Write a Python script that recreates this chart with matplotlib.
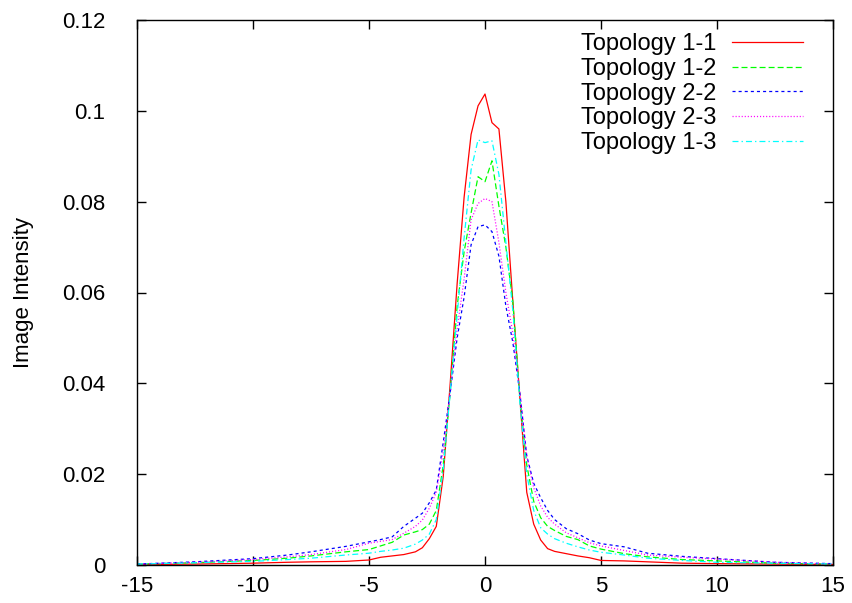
import matplotlib
matplotlib.use("Agg")
import matplotlib.pyplot as plt

plt.rcParams['font.family'] = ['Liberation Sans', 'DejaVu Sans']
plt.rcParams['lines.scale_dashes'] = False
plt.rcParams['axes.unicode_minus'] = False

# sample positions (denser around the peak)
x = [-15, -12.5, -10, -8.5, -7.5, -6, -5, -4.5, -4, -3.5, -3, -2.7, -2.4, -2.1,
     -1.8, -1.5, -1.2, -0.9, -0.6, -0.3, 0, 0.3, 0.6, 0.9, 1.2, 1.5, 1.8, 2.1,
     2.4, 2.7, 3, 3.5, 4, 4.5, 5, 6, 7, 8.5, 10, 12.5, 15]

topo_11 = [0.0001, 0.0002, 0.0004, 0.0006, 0.0007, 0.0008, 0.0011, 0.0017, 0.0020, 0.0023,
           0.0029, 0.0038, 0.0058, 0.0085, 0.0195, 0.040, 0.062, 0.081, 0.0948, 0.1011,
           0.1037, 0.0974, 0.0960, 0.080, 0.058, 0.037, 0.016, 0.0090, 0.0055, 0.0036,
           0.0030, 0.0025, 0.0020, 0.0016, 0.0010, 0.0009, 0.0007, 0.0004, 0.0003, 0.0002, 0.0001]

topo_12 = [0.0002, 0.0005, 0.0010, 0.0015, 0.0020, 0.0029, 0.0034, 0.0042, 0.0050, 0.0066,
           0.0073, 0.0078, 0.0090, 0.0120, 0.022, 0.038, 0.057, 0.069, 0.0775, 0.0855,
           0.0844, 0.0890, 0.079, 0.070, 0.058, 0.037, 0.022, 0.0140, 0.0104, 0.0085,
           0.0076, 0.0063, 0.0056, 0.0042, 0.0035, 0.0025, 0.0018, 0.0012, 0.0009, 0.0004, 0.0002]

topo_22 = [0.0002, 0.0007, 0.0014, 0.0022, 0.0029, 0.0041, 0.0051, 0.0056, 0.0062, 0.0085,
           0.0103, 0.0114, 0.0137, 0.0165, 0.027, 0.038, 0.050, 0.059, 0.0705, 0.0745,
           0.0749, 0.0734, 0.068, 0.057, 0.049, 0.038, 0.024, 0.018, 0.0148, 0.0120,
           0.0100, 0.0080, 0.0069, 0.0055, 0.0047, 0.0040, 0.0026, 0.0019, 0.0014, 0.0006, 0.0003]

topo_23 = [0.0002, 0.0006, 0.0012, 0.0018, 0.0023, 0.0034, 0.0048, 0.0052, 0.0056, 0.0070,
           0.0085, 0.0099, 0.0125, 0.016, 0.025, 0.038, 0.052, 0.063, 0.0760, 0.0796,
           0.0807, 0.0800, 0.071, 0.060, 0.051, 0.038, 0.024, 0.017, 0.0130, 0.0105,
           0.0090, 0.0071, 0.0060, 0.0049, 0.0042, 0.0032, 0.0022, 0.0017, 0.0013, 0.0006, 0.0002]

topo_13 = [0.0002, 0.0005, 0.0008, 0.0012, 0.0015, 0.0022, 0.0026, 0.0030, 0.0033, 0.0037,
           0.0046, 0.0055, 0.0068, 0.0100, 0.021, 0.038, 0.055, 0.072, 0.087, 0.0936,
           0.0930, 0.0934, 0.086, 0.071, 0.056, 0.036, 0.020, 0.012, 0.0082, 0.0068,
           0.0058, 0.0048, 0.0040, 0.0033, 0.0028, 0.0022, 0.0015, 0.0010, 0.0006, 0.0004, 0.0002]

series = [
    ("Topology 1-1", topo_11, "#ff0000", (None, None)),
    ("Topology 1-2", topo_12, "#00ff00", (4.3, 2.2)),
    ("Topology 2-2", topo_22, "#0000ff", (2.2, 2.2)),
    ("Topology 2-3", topo_23, "#ff00ff", (0.8, 1.4)),
    ("Topology 1-3", topo_13, "#00ffff", (4.3, 2.2, 1.0, 2.2)),
]

fig = plt.figure(figsize=(8.53, 6.03), dpi=100)
ax = fig.add_axes([137 / 853, 1 - 565 / 603, 696 / 853, 545 / 603])

for name, vals, col, dash in series:
    line, = ax.plot(x, vals, color=col, lw=0.9, label=name)
    if dash[0] is not None:
        line.set_dashes(dash)

ax.set_xlim(-15, 15)
ax.set_ylim(0, 0.12)
ax.set_xticks([-15, -10, -5, 0, 5, 10, 15])
ax.set_yticks([0, 0.02, 0.04, 0.06, 0.08, 0.1, 0.12])
ax.set_yticklabels(["0", "0.02", "0.04", "0.06", "0.08", "0.1", "0.12"])
ax.tick_params(direction="in", length=6.5, width=1, top=True, right=True,
               labelsize=16, colors="black")
ax.tick_params(axis="y", pad=23)
ax.tick_params(axis="x", pad=8)
for s in ax.spines.values():
    s.set_linewidth(1)
ax.set_ylabel("Image Intensity", fontsize=16, labelpad=20)

ax.legend(loc="upper right", frameon=False, markerfirst=False, fontsize=17,
          handlelength=3.0, handletextpad=0.65, labelspacing=0.12,
          borderaxespad=0.15, bbox_to_anchor=(0.975, 1.0))

fig.savefig("out.png", dpi=100)
